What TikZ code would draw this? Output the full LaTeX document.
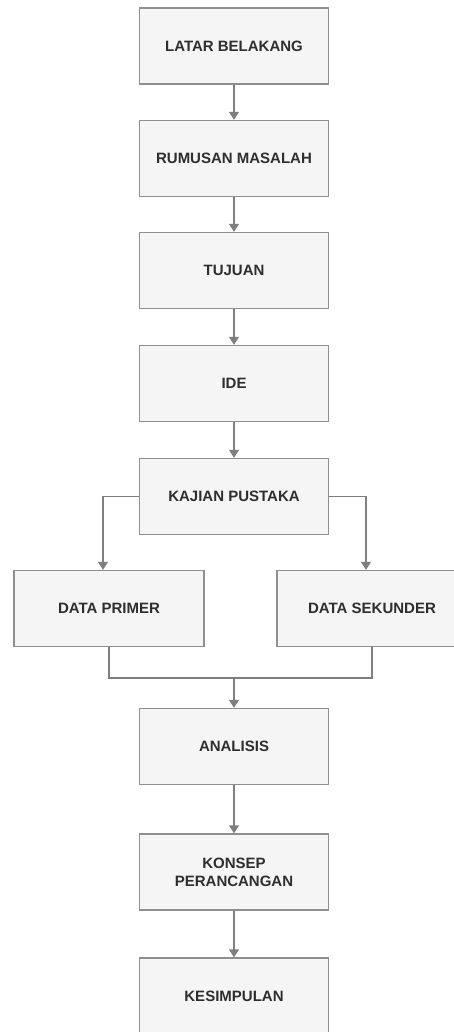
\documentclass[tikz,border=0pt]{standalone}
\usepackage{fontspec}
\setmainfont{Liberation Sans}
\usetikzlibrary{arrows.meta}
\definecolor{isian}{HTML}{F5F5F5}
\definecolor{garis}{HTML}{8F8F8F}
\definecolor{panah}{HTML}{7F7F7F}
\definecolor{tulisan}{HTML}{2E2E2E}
\begin{document}
\begin{tikzpicture}[x=1pt,y=1pt,node distance=113pt,>={Triangle[width=10pt,length=8pt]}]
  \tikzstyle{kotak}=[rectangle,draw=garis,line width=1.4pt,fill=isian,minimum width=189pt,minimum height=76pt,
    text=tulisan,font=\fontsize{15}{18}\selectfont\bfseries,align=center]
  \tikzstyle{jalur}=[draw=panah,line width=1.4pt]

  \useasboundingbox (0,0) rectangle (454,-1032);
  \fill [white] (0,0) rectangle (454,-1032);

  \begin{scope}

    \node [kotak] (b1) at (234,-46) {LATAR BELAKANG};

    \node [kotak] (b2) [below of=b1,yshift=.5pt] {RUMUSAN MASALAH}
    edge [jalur,<-] (b1);

    \node [kotak] (b3) [below of=b2,yshift=1pt] {TUJUAN}
    edge [jalur,<-] (b2);

    \node [kotak] (b4) [below of=b3] {IDE}
    edge [jalur,<-] (b3);

    \node [kotak] (b5) [below of=b4] {KAJIAN PUSTAKA}
    edge [jalur,<-] (b4);

    \node [kotak,minimum width=190pt] (b6) [below of=b5,xshift=-125pt,yshift=1pt] {DATA PRIMER};

    \node [kotak,minimum width=190pt] (b7) [below of=b5,xshift=138pt,yshift=1pt] {DATA SEKUNDER};

    \node [kotak] (b8) [below of=b5,yshift=-137pt] {ANALISIS};

    \node [kotak] (b9) [below of=b8,yshift=-12.5pt] {KONSEP\\PERANCANGAN}
    edge [jalur,<-] (b8);

    \node [kotak] (b10) [below of=b9,yshift=-11pt] {KESIMPULAN}
    edge [jalur,<-] (b9);

    % cabang dari kajian pustaka
    \draw [jalur,->] (b5.west) -| ([xshift=-6pt]b6.north);
    \draw [jalur,->] (b5.east) -| ([xshift=-6pt]b7.north);

    % gabungan data ke analisis
    \coordinate (g1) at ([yshift=30pt]b8.north);
    \draw [jalur] (b6.south) |- (g1) -| (b7.south);
    \draw [jalur,->] (g1) -- (b8.north);
  \end{scope}
\end{tikzpicture}
\end{document}
